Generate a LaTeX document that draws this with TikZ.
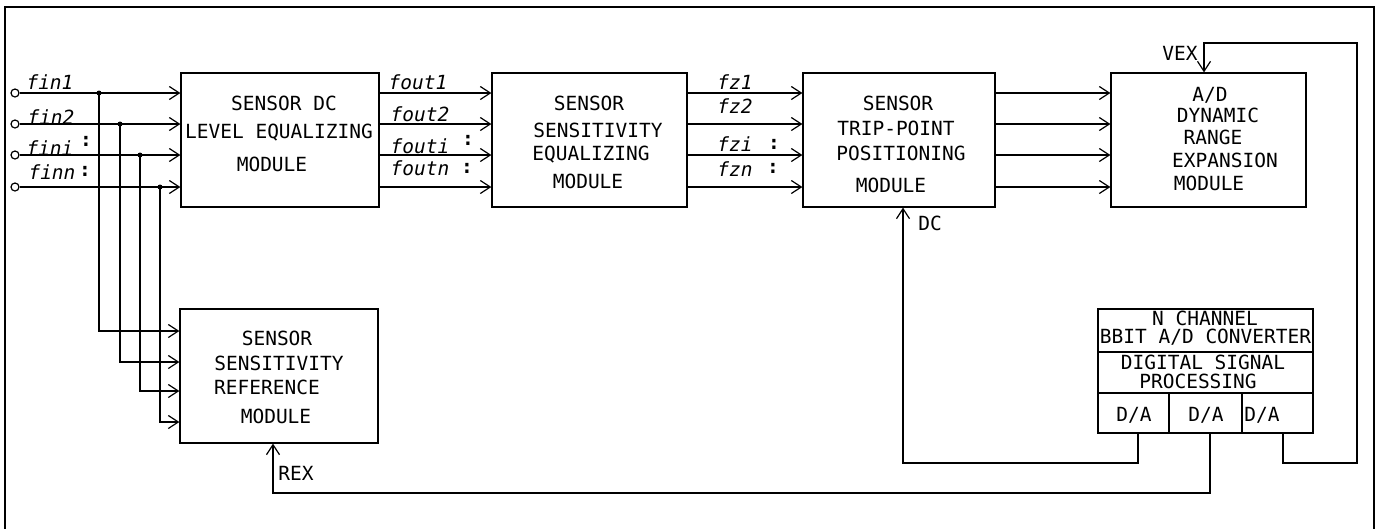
\documentclass[tikz,border=0pt]{standalone}
\usepackage{fontspec}
\setmainfont{DejaVu Sans Mono}
\usetikzlibrary{arrows.meta,calc}
\begin{document}
\begin{tikzpicture}[x=1pt,y=-1pt,
  line width=1.2pt,
  every node/.style={font=\fontsize{19.5}{20}\selectfont},
  box/.style={draw,rectangle,inner sep=0pt},
  txt/.style={inner sep=0pt},
  lbl/.style={inner sep=0pt,font=\fontsize{19.5}{20}\selectfont\itshape},
  arr/.style={-{Straight Barb[length=10pt,width=13pt,line width=1.2pt]}},
  incirc/.style={draw,circle,minimum size=8pt,inner sep=0pt,fill=white},
  jdot/.style={fill,circle,minimum size=5pt,inner sep=0pt}]
\useasboundingbox (0,0) rectangle (1378,528);
% frame
\draw (5,540) -- (5,7) -- (1374,7) -- (1374,540);
% boxes
\node[box,minimum width=198pt,minimum height=134pt] (b1) at (280,140) {};
\node[box,minimum width=195pt,minimum height=134pt] (b2) at (589.5,140) {};
\node[box,minimum width=192pt,minimum height=134pt] (b3) at (899,140) {};
\node[box,minimum width=195pt,minimum height=134pt] (b4) at (1208.5,140) {};
\node[box,minimum width=198pt,minimum height=134pt] (ref) at (279,376) {};
\node[box,minimum width=215pt,minimum height=43pt] (adc) at (1205.5,330.5) {};
\node[box,minimum width=215pt,minimum height=41pt] (dsp) at (1205.5,372.5) {};
\node[box,minimum width=71pt,minimum height=40pt] (da1) at (1133.5,413) {};
\node[box,minimum width=73pt,minimum height=40pt] (da2) at (1205.5,413) {};
\node[box,minimum width=71pt,minimum height=40pt] (da3) at (1277.5,413) {};
% box texts
\node[txt] (t11) at (284,103) {SENSOR DC};
\node[txt] (t12) at (279,133) {LEVEL EQUALIZING};
\node[txt] (t13) at (272,164) {MODULE};
\node[txt] (t21) at (589,103) {SENSOR};
\node[txt] (t22) at (598,130) {SENSITIVITY};
\node[txt] (t23) at (591,155) {EQUALIZING};
\node[txt] (t24) at (588,181) {MODULE};
\node[txt] (t31) at (898,103) {SENSOR};
\node[txt] (t32) at (896,128) {TRIP-POINT};
\node[txt] (t33) at (901,153) {POSITIONING};
\node[txt] (t34) at (891,185) {MODULE};
\node[txt] (t41) at (1210,95) {A/D};
\node[txt] (t42) at (1218,115) {DYNAMIC};
\node[txt] (t43) at (1213,137) {RANGE};
\node[txt] (t44) at (1225,160) {EXPANSION};
\node[txt] (t45) at (1209,183) {MODULE};
\node[txt] (t51) at (277,338) {SENSOR};
\node[txt] (t52) at (279,363) {SENSITIVITY};
\node[txt] (t53) at (267,387) {REFERENCE};
\node[txt] (t54) at (276,416) {MODULE};
\node[txt] (t61) at (1205,318) {N CHANNEL};
\node[txt] (t62) at (1205.5,337) {BBIT A/D CONVERTER};
\node[txt] (t63) at (1203,362) {DIGITAL SIGNAL};
\node[txt] (t64) at (1198,381.5) {PROCESSING};
\node[txt] (t65) at (1134,415) {D/A};
\node[txt] (t66) at (1206,415) {D/A};
\node[txt] (t67) at (1262,415) {D/A};
% labels
\node[lbl] (lf1) at (50,82) {fin1};
\node[lbl] (lf2) at (51,117) {fin2};
\node[lbl] (lf3) at (50,148) {fini};
\node[txt] (lc3) at (86,141) {\bfseries :};
\node[lbl] (lf4) at (52,172) {finn};
\node[txt] (lc4) at (85,171) {\bfseries :};
\node[lbl] (lo1) at (418,82) {fout1};
\node[lbl] (lo2) at (420,114) {fout2};
\node[lbl] (lo3) at (420,146) {fouti};
\node[txt] (lc5) at (468,140) {\bfseries :};
\node[lbl] (lo4) at (420,168) {foutn};
\node[txt] (lc6) at (467,168) {\bfseries :};
\node[lbl] (lz1) at (735,82) {fz1};
\node[lbl] (lz2) at (735,106) {fz2};
\node[lbl] (lz3) at (735,144) {fzi};
\node[txt] (lc7) at (774,144) {\bfseries :};
\node[lbl] (lz4) at (735,169) {fzn};
\node[txt] (lc8) at (773,168) {\bfseries :};
\node[txt] (ldc) at (930,223) {DC};
\node[txt] (lrex) at (296,473) {REX};
\node[txt] (lvex) at (1180,53) {VEX};
% rows
\coordinate (r1) at (0,93);
\coordinate (r2) at (0,124);
\coordinate (r3) at (0,155);
\coordinate (r4) at (0,187);
\coordinate (q1) at (0,331);
\coordinate (q2) at (0,362);
\coordinate (q3) at (0,391);
\coordinate (q4) at (0,422);
% inputs
\node[incirc] (i1) at (15,93) {};
\node[incirc] (i2) at (15,124) {};
\node[incirc] (i3) at (15,155) {};
\node[incirc] (i4) at (15,187) {};
\foreach \i in {1,2,3,4} \draw[arr] (i\i) -- (i\i -| b1.west);
\node[jdot] (j1) at (99,93) {};
\node[jdot] (j2) at (120,124) {};
\node[jdot] (j3) at (140,155) {};
\node[jdot] (j4) at (160,187) {};
\foreach \i in {1,2,3,4} \draw[arr] (j\i.center) |- (q\i -| ref.west);
% chains
\foreach \r in {r1,r2,r3,r4} {
  \draw[arr] (b1.east |- \r) -- (b2.west |- \r);
  \draw[arr] (b2.east |- \r) -- (b3.west |- \r);
  \draw[arr] (b3.east |- \r) -- (b4.west |- \r);
}
% feedback
\coordinate (dcc) at (903,463);
\draw[arr] ([xshift=4.5pt]da1.south) |- (dcc) -- (dcc |- b3.south);
\coordinate (rexc) at (273,493);
\draw[arr] ([xshift=4.5pt]da2.south) |- (rexc) -- (rexc |- ref.south);
\coordinate (vr) at (1357,463);
\coordinate (vt) at (1204,43);
\draw[arr] ([xshift=5.5pt]da3.south) |- (vr) |- (vt) -- (vt |- b4.north);
\end{tikzpicture}
\end{document}
